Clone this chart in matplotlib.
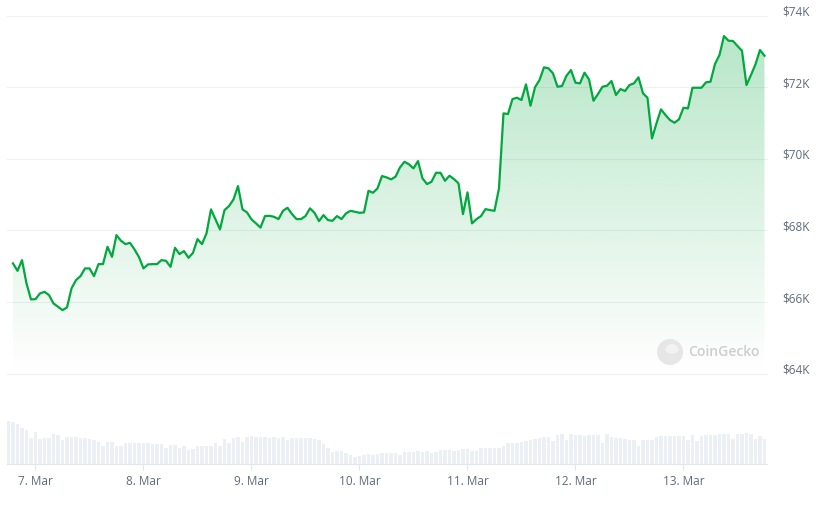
import numpy as np
import pandas as pd
import matplotlib
matplotlib.use("Agg")
import matplotlib.pyplot as plt
import matplotlib.dates as mdates
from matplotlib.patches import Circle, Ellipse

# hourly BTC price, USD
price = [
    67079, 66872, 67171, 66520, 66073, 66082, 66241, 66286, 66194, 65962,
    65867, 65775, 65850, 66381, 66613, 66724, 66939, 66939, 66724, 67059,
    67059, 67543, 67263, 67869, 67710, 67618, 67654, 67470, 67255, 66939,
    67051, 67059, 67059, 67171, 67152, 66984, 67515, 67339, 67423, 67235,
    67375, 67758, 67618, 67917, 68587, 68308, 68029, 68568, 68679, 68866,
    69238, 68587, 68503, 68308, 68196, 68079, 68400, 68408, 68380, 68316,
    68548, 68632, 68456, 68316, 68316, 68400, 68615, 68492, 68260, 68428,
    68288, 68269, 68400, 68316, 68475, 68548, 68520, 68492, 68503, 69107,
    69051, 69174, 69517, 69481, 69425, 69498, 69760, 69917, 69844, 69732,
    69936, 69453, 69294, 69358, 69609, 69609, 69386, 69526, 69433, 69313,
    68456, 69062, 68196, 68316, 68400, 68595, 68568, 68548, 69174, 71268,
    71249, 71668, 71704, 71640, 72078, 71481, 71995, 72199, 72553, 72525,
    72386, 72011, 72031, 72319, 72478, 72123, 72106, 72402, 72218, 71620,
    71807, 72011, 72039, 72171, 71780, 71947, 71891, 72059, 72106, 72274,
    71827, 71704, 70570, 70989, 71380, 71221, 71081, 71006, 71101, 71425,
    71408, 71983, 71983, 71983, 72134, 72151, 72645, 72897, 73427, 73296,
    73288, 73148, 73017, 72059, 72338, 72637, 73036, 72877,
]

# hourly volume, billions USD
volume = [
    13.0, 12.7, 12.1, 10.8, 10.3, 7.8, 9.7, 7.6, 7.8, 7.8,
    9.1, 8.8, 7.3, 8.2, 8.2, 8.2, 7.8, 7.8, 7.5, 7.2,
    6.6, 5.5, 6.6, 6.6, 5.5, 5.5, 6.3, 6.4, 6.4, 6.4,
    6.4, 6.4, 6.1, 6.1, 6.1, 4.8, 5.8, 5.8, 4.9, 5.5,
    4.3, 4.6, 5.5, 5.5, 5.5, 5.5, 6.4, 5.5, 7.5, 6.4,
    7.9, 8.2, 6.7, 8.2, 8.5, 8.2, 8.2, 8.2, 7.9, 8.2,
    7.9, 8.2, 7.2, 7.9, 7.9, 7.9, 7.9, 7.9, 7.6, 7.2,
    6.0, 4.9, 3.8, 4.0, 4.0, 3.5, 2.8, 2.2, 2.5, 2.8,
    3.1, 2.8, 3.1, 3.4, 3.4, 3.4, 3.4, 2.8, 3.7, 3.7,
    3.7, 4.0,
    3.7, 4.0, 3.4, 3.7, 4.3, 4.3, 4.3, 4.0, 4.3, 4.6,
    4.6, 4.0, 4.0, 4.9, 4.9, 4.9, 4.9, 4.9, 5.5, 6.4,
    6.4, 6.4, 6.7, 7.0, 7.3, 7.6, 7.9, 8.2, 8.2, 7.0,
    8.8, 9.1, 7.3, 9.1, 8.8, 8.8, 8.5, 8.8, 8.8, 8.8,
    6.4, 9.1, 8.2, 7.9, 7.9, 7.6, 7.3, 7.3, 5.5, 7.3,
    7.3, 7.3, 8.2, 8.5, 8.5, 8.5, 8.5, 8.5, 8.5, 7.3,
    8.8, 7.0, 8.5, 8.8, 8.8, 8.8, 9.1, 9.1, 9.1, 7.6,
    9.1, 9.1, 9.4, 9.1, 7.6, 8.5, 7.6,
]

price_ticks = [64000, 66000, 68000, 70000, 72000, 74000]
price_labels = ["$64K", "$66K", "$68K", "$70K", "$72K", "$74K"]

times = pd.date_range("2024-03-06 19:00", periods=len(price), freq="h")
vol_times = pd.date_range("2024-03-06 18:00", periods=len(volume), freq="h")

green = "#00a83e"
grey_txt = "#5f6b7a"
grid_col = "#eef0f3"

W, H = 823, 511
fig = plt.figure(figsize=(W / 100, H / 100), dpi=100)
ax = fig.add_axes([7 / W, 1 - 373.7 / H, 760 / W, (373.7 - 15.5) / H])
axv = fig.add_axes([7 / W, 1 - 464.3 / H, 760 / W, 48.3 / H], sharex=ax)

x0 = times[0] - pd.Timedelta(hours=1.333)
x1 = times[0] + pd.Timedelta(hours=167.56)

# price line + gradient fill
ax.plot(times, price, color=green, lw=1.6, zorder=3, solid_joinstyle="round")
poly = ax.fill_between(times, price, 64000, color="none", lw=0)
grad = np.zeros((256, 1, 4))
grad[:, 0, 0] = 0 / 255
grad[:, 0, 1] = 168 / 255
grad[:, 0, 2] = 62 / 255
grad[:, 0, 3] = np.linspace(0.0, 0.30, 256)
img = ax.imshow(grad, aspect="auto", origin="lower",
                extent=[mdates.date2num(x0), mdates.date2num(x1), 64000, 74000],
                zorder=2)
img.set_clip_path(poly.get_paths()[0], transform=ax.transData)

ax.set_xlim(x0, x1)
ax.set_ylim(64000, 74000)
ax.set_yticks(price_ticks, price_labels)
ax.yaxis.tick_right()
ax.tick_params(axis="y", length=0, pad=11, labelsize=8.5, labelcolor=grey_txt)
for lab in ax.get_yticklabels():
    lab.set_fontfamily("Open Sans")
    lab.set_verticalalignment("baseline")
ax.grid(axis="y", color=grid_col, lw=0.8)
for gl in ax.get_ygridlines():
    gl.set_clip_on(False)
ax.tick_params(axis="x", bottom=False, labelbottom=False)
for s in ax.spines.values():
    s.set_visible(False)

# volume bars
axv.bar(vol_times, volume, width=0.68 / 24, color="#eceff3", lw=0)
axv.set_ylim(0, 14.5)
axv.set_yticks([])
for k in ["top", "left", "right"]:
    axv.spines[k].set_visible(False)
axv.spines["bottom"].set_color("#e3e7ec")
axv.spines["bottom"].set_linewidth(0.8)
axv.xaxis.set_major_locator(mdates.DayLocator())
axv.xaxis.set_major_formatter(mdates.DateFormatter("%-d. %b"))
axv.tick_params(axis="x", length=4, color="#e3e7ec", pad=4,
                labelsize=8.5, labelcolor=grey_txt)
for lab in axv.get_xticklabels():
    lab.set_fontfamily("Open Sans")

# watermark
fig.text(688 / W, 1 - 352 / H, "CoinGecko", color="#cdcdcd", fontsize=10,
         fontfamily="Open Sans", fontweight="semibold", va="center", ha="left")
fig.add_artist(Circle((6.70, (H - 352) / 100), 0.13, transform=fig.dpi_scale_trans,
                      facecolor="#e6e6e6", edgecolor="none"))
fig.add_artist(Ellipse((6.72, (H - 349) / 100), 0.13, 0.10, transform=fig.dpi_scale_trans,
                       facecolor="#f2f2f2", edgecolor="none"))

fig.savefig("out.png", dpi=100)
